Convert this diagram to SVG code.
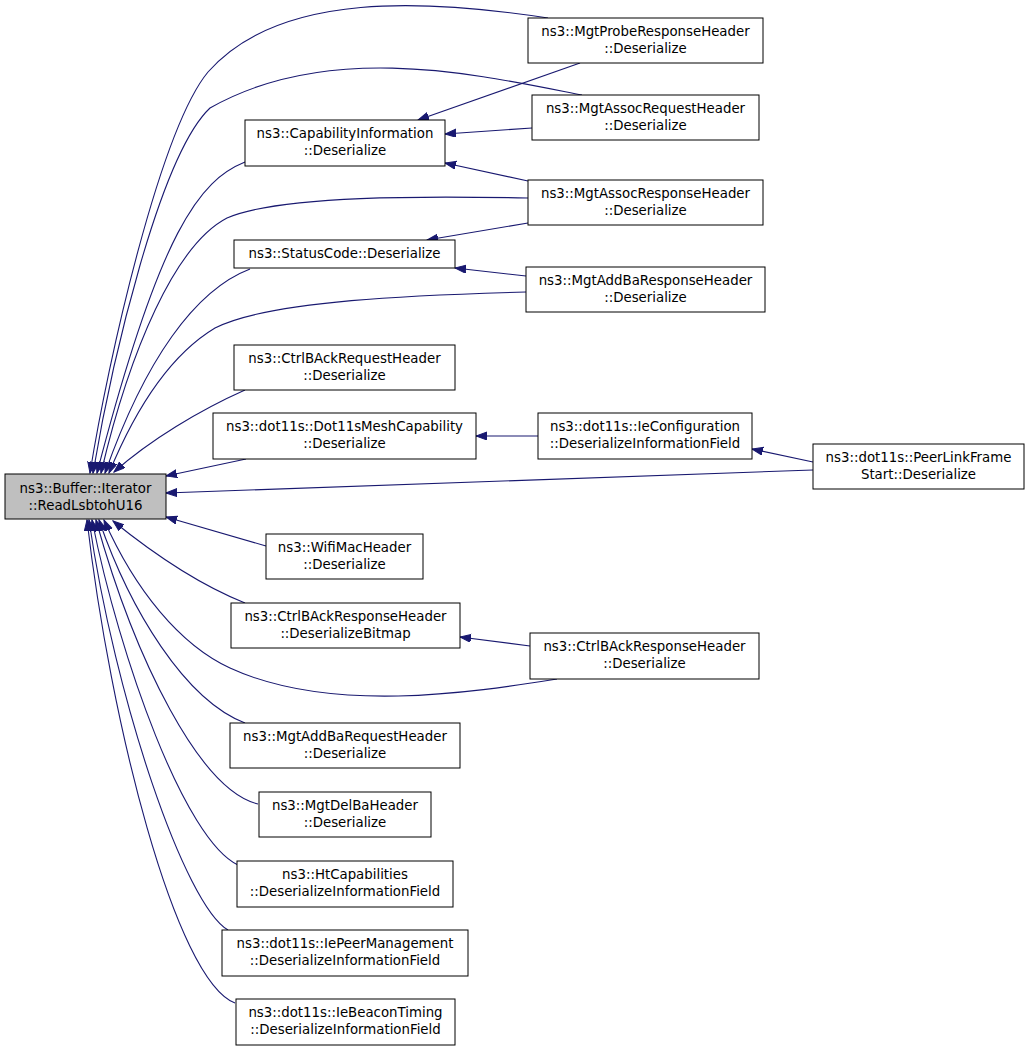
<svg xmlns="http://www.w3.org/2000/svg" width="1029" height="1051" viewBox="0 0 1029 1051">
<style>
.n rect{fill:#ffffff;stroke:#000000;stroke-width:1}
.n.main rect{fill:#bfbfbf}
.n text{font-family:"DejaVu Sans",sans-serif;font-size:13.33px;fill:#000000;text-anchor:middle}
.e path{fill:none;stroke:#191970;stroke-width:1.1;marker-end:url(#ah)}
</style>
<defs>
<marker id="ah" markerUnits="userSpaceOnUse" markerWidth="12" markerHeight="9" refX="11" refY="4" orient="auto">
<path d="M0,0 L11,4 L0,8 z" fill="#191970" stroke="#191970"/>
</marker>
</defs>
<rect width="1029" height="1051" fill="#ffffff"/>
<g id="edges" class="e">
<path d="M548,18 C430,0 280,-10 208,72 C160,130 108,360 90,473"/>
<path d="M582,95 C480,75 330,40 210,108 C160,155 112,360 93,473"/>
<path d="M245,162 C200,180 160,230 97,473"/>
<path d="M528,198 C430,196 280,195 227,218 C175,245 130,350 101,473"/>
<path d="M250,269 C195,290 145,360 105,473"/>
<path d="M526,292 C420,295 270,300 215,328 C170,355 135,410 109,473"/>
<path d="M245,390 C200,410 150,440 114,472"/>
<path d="M246,459 L166,476"/>
<path d="M580,63 L418,120"/>
<path d="M532,128 L445,134"/>
<path d="M528,181 L445,163"/>
<path d="M528,223 L427,240"/>
<path d="M526,276 L455,268"/>
<path d="M538,436 L476,436"/>
<path d="M813,462 L752,449"/>
<path d="M813,470 L166,493"/>
<path d="M266,546 L166,517"/>
<path d="M245,603 C200,585 155,555 113,521"/>
<path d="M557,679 C470,693 330,714 230,668 C180,645 135,590 104,520"/>
<path d="M530,646 L460,637"/>
<path d="M245,723 C185,700 130,610 99,520"/>
<path d="M258,804 C200,790 135,660 96,520"/>
<path d="M238,865 C185,840 120,660 92,520"/>
<path d="M228,930 C185,905 115,700 89,520"/>
<path d="M235,1003 C175,980 110,720 87,520"/>
</g>
<g id="node-main" class="n main"><rect x="5" y="474" width="161" height="45"/><text x="85.5" y="493">ns3::Buffer::Iterator</text><text x="85.5" y="510">::ReadLsbtohU16</text></g>
<g id="node-probe" class="n"><rect x="528" y="18" width="235" height="45"/><text x="645.5" y="36">ns3::MgtProbeResponseHeader</text><text x="645.5" y="53">::Deserialize</text></g>
<g id="node-assocreq" class="n"><rect x="532" y="95" width="227" height="45"/><text x="645.5" y="113">ns3::MgtAssocRequestHeader</text><text x="645.5" y="130">::Deserialize</text></g>
<g id="node-capinfo" class="n"><rect x="245" y="120" width="200" height="46"/><text x="345" y="138">ns3::CapabilityInformation</text><text x="345" y="155">::Deserialize</text></g>
<g id="node-assocresp" class="n"><rect x="528" y="180" width="235" height="45"/><text x="645.5" y="198">ns3::MgtAssocResponseHeader</text><text x="645.5" y="215">::Deserialize</text></g>
<g id="node-status" class="n"><rect x="234" y="240" width="221" height="28"/><text x="344.5" y="258">ns3::StatusCode::Deserialize</text></g>
<g id="node-addbaresp" class="n"><rect x="526" y="267" width="239" height="45"/><text x="645.5" y="285">ns3::MgtAddBaResponseHeader</text><text x="645.5" y="302">::Deserialize</text></g>
<g id="node-ctrlbackreq" class="n"><rect x="234" y="345" width="221" height="45"/><text x="344.5" y="363">ns3::CtrlBAckRequestHeader</text><text x="344.5" y="380">::Deserialize</text></g>
<g id="node-meshcap" class="n"><rect x="213" y="413" width="263" height="46"/><text x="344.5" y="431">ns3::dot11s::Dot11sMeshCapability</text><text x="344.5" y="448">::Deserialize</text></g>
<g id="node-ieconfig" class="n"><rect x="538" y="413" width="214" height="46"/><text x="645" y="431">ns3::dot11s::IeConfiguration</text><text x="645" y="448">::DeserializeInformationField</text></g>
<g id="node-peerlink" class="n"><rect x="813" y="444" width="211" height="45"/><text x="918.5" y="462">ns3::dot11s::PeerLinkFrame</text><text x="918.5" y="479">Start::Deserialize</text></g>
<g id="node-wifimac" class="n"><rect x="266" y="534" width="157" height="45"/><text x="344.5" y="552">ns3::WifiMacHeader</text><text x="344.5" y="569">::Deserialize</text></g>
<g id="node-bitmap" class="n"><rect x="231" y="603" width="229" height="45"/><text x="345.5" y="621">ns3::CtrlBAckResponseHeader</text><text x="345.5" y="638">::DeserializeBitmap</text></g>
<g id="node-ctrlbackresp" class="n"><rect x="530" y="633" width="229" height="46"/><text x="644.5" y="651">ns3::CtrlBAckResponseHeader</text><text x="644.5" y="668">::Deserialize</text></g>
<g id="node-addbareq" class="n"><rect x="230" y="723" width="230" height="45"/><text x="345" y="741">ns3::MgtAddBaRequestHeader</text><text x="345" y="758">::Deserialize</text></g>
<g id="node-delba" class="n"><rect x="259" y="792" width="172" height="45"/><text x="345" y="810">ns3::MgtDelBaHeader</text><text x="345" y="827">::Deserialize</text></g>
<g id="node-htcap" class="n"><rect x="237" y="861" width="216" height="46"/><text x="345" y="879">ns3::HtCapabilities</text><text x="345" y="896">::DeserializeInformationField</text></g>
<g id="node-peermgmt" class="n"><rect x="222" y="930" width="246" height="46"/><text x="345" y="948">ns3::dot11s::IePeerManagement</text><text x="345" y="965">::DeserializeInformationField</text></g>
<g id="node-beacon" class="n"><rect x="236" y="999" width="219" height="46"/><text x="345.5" y="1017">ns3::dot11s::IeBeaconTiming</text><text x="345.5" y="1034">::DeserializeInformationField</text></g>
</svg>
